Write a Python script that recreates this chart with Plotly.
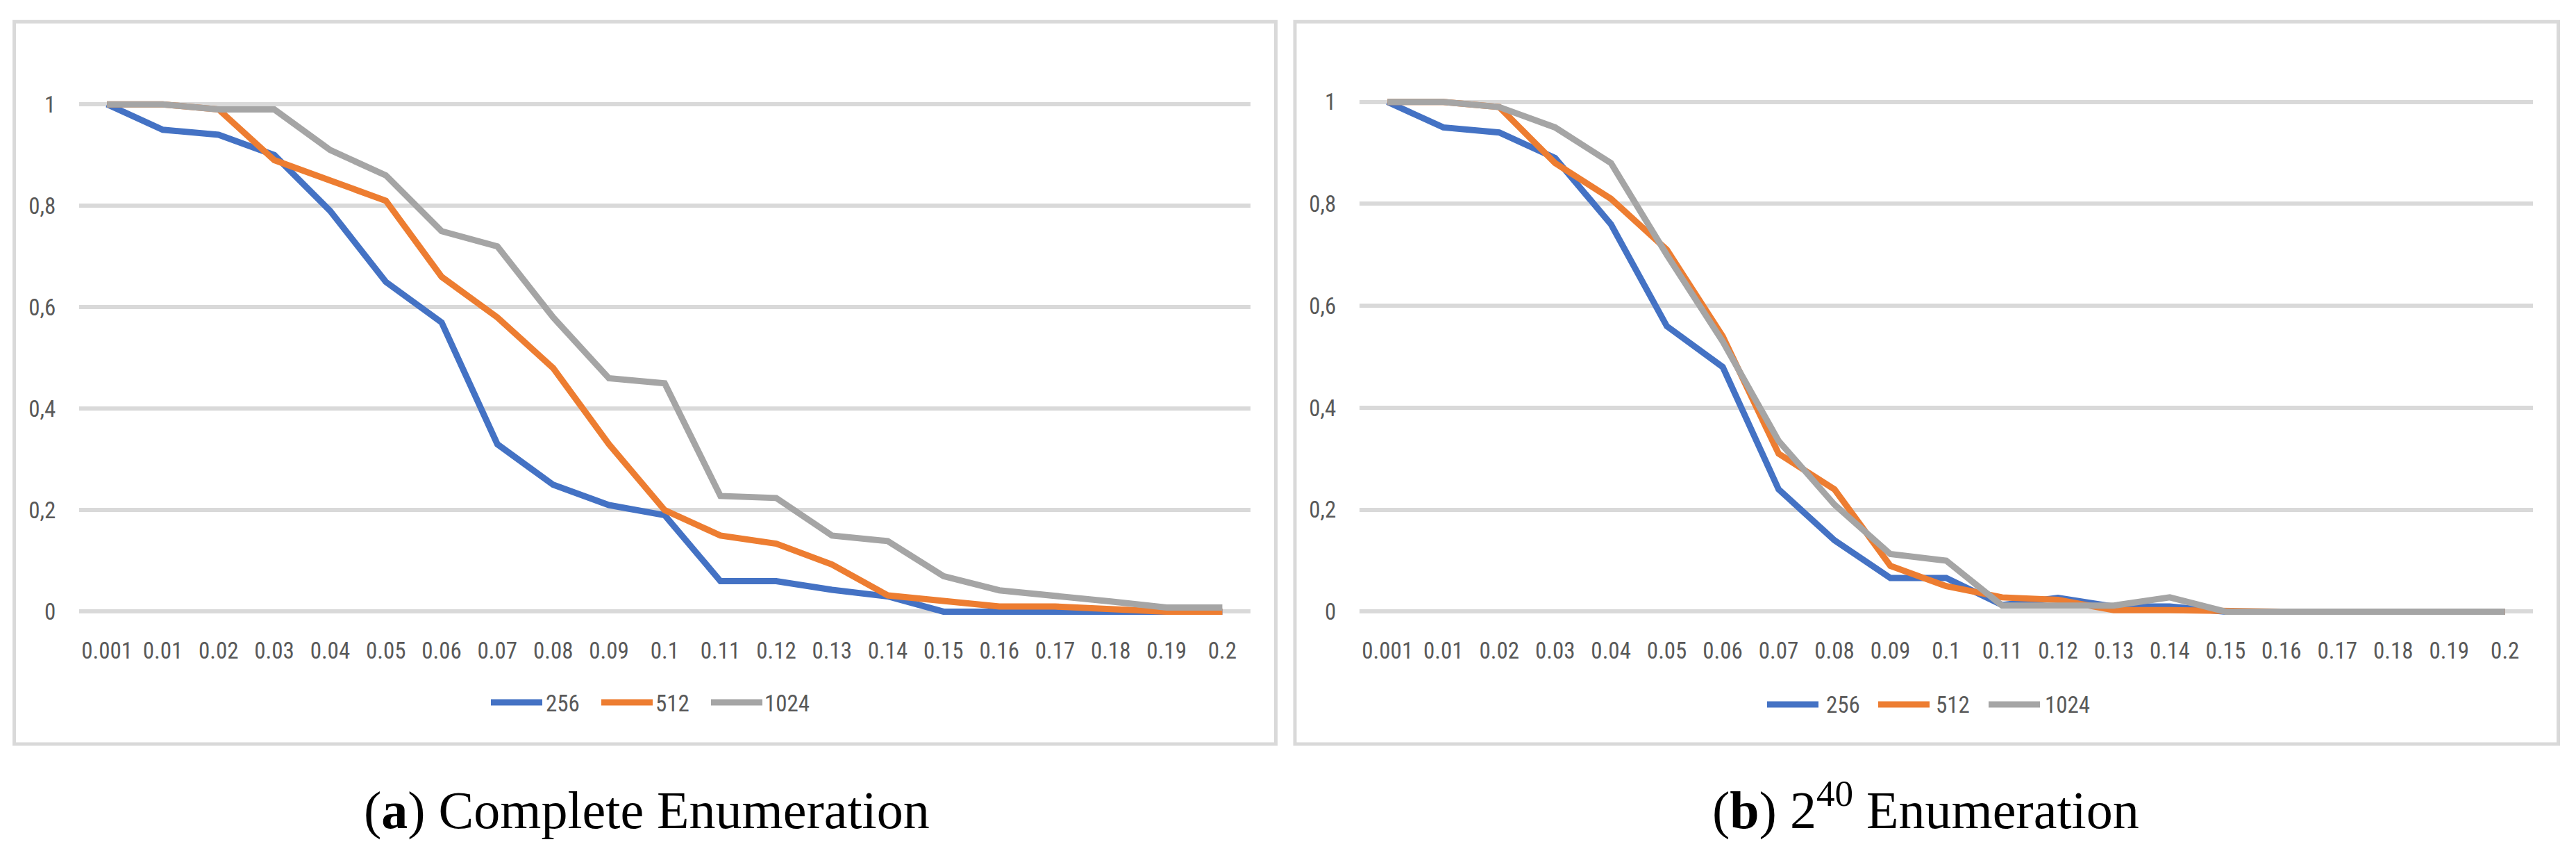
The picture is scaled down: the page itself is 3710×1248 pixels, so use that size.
import plotly.graph_objects as go

# ---------------- data ----------------
categories = ["0.001", "0.01", "0.02", "0.03", "0.04", "0.05", "0.06", "0.07",
              "0.08", "0.09", "0.1", "0.11", "0.12", "0.13", "0.14", "0.15",
              "0.16", "0.17", "0.18", "0.19", "0.2"]

series_names = ["256", "512", "1024"]

# (a) Complete Enumeration
a_256 = [1.0, 0.95, 0.94, 0.90, 0.79, 0.65, 0.57, 0.33, 0.25, 0.21, 0.19,
         0.06, 0.06, 0.043, 0.03, 0.0, 0.0, 0.0, 0.0, 0.0, 0.0]
a_512 = [1.0, 1.0, 0.99, 0.89, 0.85, 0.81, 0.66, 0.58, 0.48, 0.33, 0.20,
         0.15, 0.134, 0.093, 0.032, 0.02, 0.01, 0.01, 0.004, 0.0, 0.0]
a_1024 = [1.0, 1.0, 0.99, 0.99, 0.91, 0.86, 0.75, 0.72, 0.58, 0.46, 0.45,
          0.228, 0.224, 0.15, 0.139, 0.07, 0.042, 0.032, 0.02, 0.008, 0.008]

# (b) 2^40 Enumeration
b_256 = [1.0, 0.95, 0.94, 0.89, 0.76, 0.56, 0.48, 0.24, 0.14, 0.066, 0.066,
         0.013, 0.027, 0.01, 0.01, 0.0, 0.0, 0.0, 0.0, 0.0, 0.0]
b_512 = [1.0, 1.0, 0.99, 0.88, 0.81, 0.71, 0.54, 0.31, 0.24, 0.09, 0.05,
         0.028, 0.023, 0.003, 0.003, 0.0, 0.0, 0.0, 0.0, 0.0, 0.0]
b_1024 = [1.0, 1.0, 0.99, 0.95, 0.88, 0.70, 0.53, 0.335, 0.21, 0.113, 0.10,
          0.012, 0.012, 0.012, 0.028, 0.0, 0.0, 0.0, 0.0, 0.0, 0.0]

y_ticks = [0, 0.2, 0.4, 0.6, 0.8, 1]
y_tick_labels = ["0", "0,2", "0,4", "0,6", "0,8", "1"]

captions = ["(<b>a</b>) Complete Enumeration",
            "(<b>b</b>) 2<sup>40</sup> Enumeration"]

# ---------------- style ----------------
colors = ["#4472C4", "#ED7D31", "#A5A5A5"]
W, H = 3710, 1248
TXT = "#595959"
GRID = "#D9D9D9"
SANS = "Liberation Sans Narrow, Arial Narrow, Roboto Condensed, Liberation Sans, sans-serif"
SERIF = "Liberation Serif, Times New Roman, serif"


def px(x):
    return x / W


def py(y):
    return 1 - y / H


fig = go.Figure()

panels = [
    dict(data=[a_256, a_512, a_1024], xa="x", ya="y"),
    dict(data=[b_256, b_512, b_1024], xa="x2", ya="y2"),
]

for p in panels:
    for name, vals, col in zip(series_names, p["data"], colors):
        fig.add_trace(go.Scatter(
            x=categories, y=vals, mode="lines", name=name,
            line=dict(color=col, width=9),
            xaxis=p["xa"], yaxis=p["ya"], showlegend=False,
            hoverinfo="skip",
        ))

pad = 0.012
x_common = dict(type="category", range=[-0.5, len(categories) - 0.5],
                showgrid=False, showline=False, zeroline=False,
                ticks="outside", ticklen=18, tickcolor="rgba(0,0,0,0)",
                tickfont=dict(family=SANS, size=33, color=TXT),
                fixedrange=True, tickangle=0)
y_common = dict(range=[-pad, 1 + pad], tickvals=y_ticks, ticktext=y_tick_labels,
                showgrid=True, gridcolor=GRID, gridwidth=6,
                zeroline=False, showline=False,
                ticks="outside", ticklen=26, tickcolor="rgba(0,0,0,0)",
                tickfont=dict(family=SANS, size=33, color=TXT),
                fixedrange=True)

fig.update_layout(
    width=W, height=H,
    margin=dict(l=0, r=0, t=0, b=0),
    paper_bgcolor="white", plot_bgcolor="white",
    showlegend=False,
    xaxis=dict(x_common, domain=[px(114), px(1800.6)], anchor="y"),
    yaxis=dict(y_common, domain=[py(885 + 8.9), py(141.7 - 8.9)], anchor="x"),
    xaxis2=dict(x_common, domain=[px(1958), px(3648)], anchor="y2"),
    yaxis2=dict(y_common, domain=[py(885 + 9.0), py(138.2 - 9.0)], anchor="x2"),
)

shapes = []
annotations = []

# panel frames
for (l, r) in [(20.5, 1837.5), (1865, 3684.5)]:
    shapes.append(dict(type="rect", xref="paper", yref="paper",
                       x0=px(l), x1=px(r), y0=py(1079), y1=py(20.5),
                       line=dict(color=GRID, width=5), fillcolor="rgba(0,0,0,0)",
                       layer="below"))

# legends (drawn manually, Excel-style long line samples)
legend_specs = [
    dict(lines=[707, 866, 1024], texts=[786, 944, 1101], y=1018),
    dict(lines=[2545, 2705, 2864], texts=[2630, 2788, 2945], y=1021),
]
for spec in legend_specs:
    for name, col, lx, tx in zip(series_names, colors, spec["lines"], spec["texts"]):
        shapes.append(dict(type="line", xref="paper", yref="paper",
                           x0=px(lx), x1=px(lx + 74), y0=py(spec["y"]), y1=py(spec["y"]),
                           line=dict(color=col, width=9)))
        annotations.append(dict(xref="paper", yref="paper", x=px(tx - 2), y=py(spec["y"] + 1),
                                xanchor="left", yanchor="middle", showarrow=False,
                                text=name, font=dict(family=SANS, size=33, color=TXT)))

# captions
for cap, cx in zip(captions, [931.5, 2773]):
    annotations.append(dict(xref="paper", yref="paper", x=px(cx), y=py(1222),
                            xanchor="center", yanchor="bottom", showarrow=False,
                            text=cap, font=dict(family=SERIF, size=76, color="black")))

fig.update_layout(shapes=shapes, annotations=annotations)

fig.write_html("out.html", config=dict(displayModeBar=False),
               post_script="document.body.style.margin='0';document.body.style.overflow='hidden';")
